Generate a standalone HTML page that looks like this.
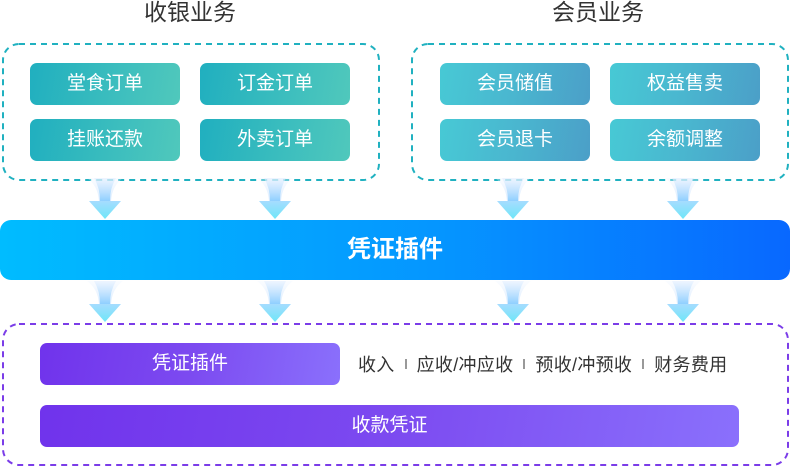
<!DOCTYPE html>
<html>
<head>
<meta charset="utf-8">
<style>
  html,body{margin:0;padding:0;}
  body{width:790px;height:467px;position:relative;overflow:hidden;background:#fff;
    font-family:"Liberation Sans","Noto Sans CJK SC",sans-serif;}
  .abs{position:absolute;}
  .title{position:absolute;top:-2px;font-size:23px;color:#333;line-height:28px;text-align:center;width:200px;}
  .btn{position:absolute;width:150px;height:42px;border-radius:7px;color:#fff;font-size:19px;
    line-height:42px;text-align:center;}
  .teal{background:linear-gradient(100deg,#20afbf 0%,#3bbdbe 55%,#50c8bc 100%);}
  .mem{background:linear-gradient(100deg,#47c9d5 0%,#4ab6cf 50%,#4b9fc8 100%);}
  .bar{position:absolute;left:0;top:220px;width:790px;height:60px;border-radius:11px;
    background:linear-gradient(90deg,#00bcff 0%,#0596ff 55%,#0868ff 100%);
    color:#fff;font-weight:bold;font-size:24px;line-height:60px;text-align:center;letter-spacing:0px;}
  .purple{background:linear-gradient(100deg,#7033ec 0%,#7c4af0 50%,#8a70fc 100%);}
  .line{position:absolute;top:351px;left:358px;font-size:18px;color:#333;line-height:28px;white-space:nowrap;letter-spacing:0.3px;}
  .sep{display:inline-block;width:2px;height:10px;background:#999;margin:0 10px 0 10px;vertical-align:2px;}
</style>
</head>
<body>
<svg class="abs" style="left:0;top:0" width="790" height="467" viewBox="0 0 790 467">
  <defs>
    <linearGradient id="stem" x1="0" y1="0" x2="0" y2="1">
      <stop offset="0" stop-color="#e6f0ff" stop-opacity="0.6"/>
      <stop offset="1" stop-color="#8fcfff"/>
    </linearGradient>
    <linearGradient id="flare" x1="0" y1="0" x2="0" y2="1">
      <stop offset="0" stop-color="#eef5ff" stop-opacity="0.3"/>
      <stop offset="1" stop-color="#cfe6ff" stop-opacity="0.8"/>
    </linearGradient>
    <linearGradient id="head" x1="0" y1="0" x2="0" y2="1">
      <stop offset="0" stop-color="#a6dcff"/>
      <stop offset="1" stop-color="#6ee6f8"/>
    </linearGradient>
    <g id="arrow">
      <path d="M2,0 L38,0 Q27,8 26,23 L14,23 Q13,8 2,0 Z" fill="url(#flare)"/>
      <path d="M9,0 L31,0 Q25,10 25,23 L15,23 Q15,10 9,0 Z" fill="url(#stem)"/>
      <path d="M4,23 L36,23 L20,41 Z" fill="url(#head)"/>
    </g>
  </defs>
  <rect x="3" y="44" width="376" height="136" rx="16" ry="16" fill="none" stroke="#20b1c0" stroke-width="2" stroke-dasharray="6 5"/>
  <rect x="412" y="44" width="376" height="136" rx="16" ry="16" fill="none" stroke="#20b1c0" stroke-width="2" stroke-dasharray="6 5"/>
  <rect x="3" y="324" width="785" height="141" rx="16" ry="16" fill="none" stroke="#7b3de8" stroke-width="2" stroke-dasharray="6 5"/>
  <use href="#arrow" x="85" y="178"/>
  <use href="#arrow" x="255" y="178"/>
  <use href="#arrow" x="493" y="178"/>
  <use href="#arrow" x="663" y="178"/>
  <use href="#arrow" x="85" y="281"/>
  <use href="#arrow" x="255" y="281"/>
  <use href="#arrow" x="493" y="281"/>
  <use href="#arrow" x="663" y="281"/>
</svg>

<div class="title" style="left:90px;">收银业务</div>
<div class="title" style="left:498px;">会员业务</div>

<div class="btn teal" style="left:30px;top:63px;">堂食订单</div>
<div class="btn teal" style="left:200px;top:63px;">订金订单</div>
<div class="btn teal" style="left:30px;top:119px;">挂账还款</div>
<div class="btn teal" style="left:200px;top:119px;">外卖订单</div>

<div class="btn mem" style="left:440px;top:63px;">会员储值</div>
<div class="btn mem" style="left:610px;top:63px;">权益售卖</div>
<div class="btn mem" style="left:440px;top:119px;">会员退卡</div>
<div class="btn mem" style="left:610px;top:119px;">余额调整</div>

<div class="bar">凭证插件</div>

<div class="btn purple" style="left:40px;top:343px;width:300px;">凭证插件</div>
<div class="line">收入<span class="sep"></span>应收/冲应收<span class="sep"></span>预收/冲预收<span class="sep"></span>财务费用</div>
<div class="btn purple" style="left:40px;top:405px;width:699px;">收款凭证</div>
</body>
</html>
